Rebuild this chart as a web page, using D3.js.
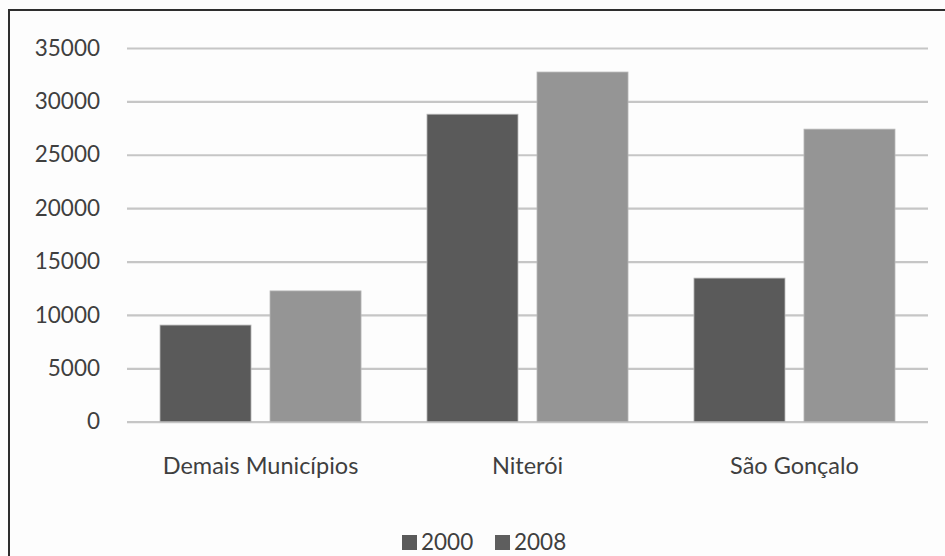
<!DOCTYPE html>
<html>
<head>
<meta charset="utf-8">
<script src="https://cdn.jsdelivr.net/npm/d3@7/dist/d3.min.js"></script>
<style>
  html, body { margin: 0; padding: 0; background: #fdfdfd; }
  svg { display: block; }
  text { font-family: Lato, "Open Sans", sans-serif; fill: #3f3f3f; }
</style>
</head>
<body>
<svg id="chart" width="945" height="556"></svg>
<script>
// Categories, series and values
const categories = ["Demais Municípios", "Niterói", "São Gonçalo"];
const seriesNames = ["2000", "2008"];
const values2000 = [9050, 28800, 13450];
const values2008 = [12250, 32750, 27400];
const yTicks = [0, 5000, 10000, 15000, 20000, 25000, 30000, 35000];
const seriesColors = ["#5a5a5a", "#959595"];

const seriesValues = [values2000, values2008];
const rows = categories.map((c, i) => ({
  category: c,
  values: seriesNames.map((s, k) => ({ series: s, value: seriesValues[k][i], k }))
}));

const svg = d3.select("#chart");
const W = 945, H = 556;
const plot = { left: 127, right: 928, top: 48, bottom: 421.7 };

// frame around the chart area
svg.append("rect")
  .attr("x", 9).attr("y", 10)
  .attr("width", W + 20).attr("height", H + 20)
  .attr("fill", "#fdfdfd")
  .attr("stroke", "#2e2e2e").attr("stroke-width", 2);

const x0 = d3.scaleBand()
  .domain(categories)
  .range([plot.left, plot.right])
  .paddingInner(0.247)
  .paddingOuter(0.1236);

const x1 = d3.scaleBand()
  .domain(seriesNames)
  .range([0, x0.bandwidth()])
  .paddingInner(0.1727)
  .paddingOuter(0);

const y = d3.scaleLinear()
  .domain([0, 35000])
  .range([plot.bottom, plot.top]);

// y axis with gridlines
const yAxis = svg.append("g")
  .attr("transform", `translate(${plot.left},0)`)
  .call(d3.axisLeft(y).tickValues(yTicks).tickSize(-(plot.right - plot.left)).tickPadding(27).tickFormat(d3.format("d")));
yAxis.select(".domain").remove();
yAxis.selectAll(".tick line").attr("stroke", "#c6c6c6").attr("stroke-width", 2.2);
yAxis.selectAll(".tick text").attr("font-size", 22.5).attr("fill", "#3f3f3f");

// bars
const groups = svg.append("g").selectAll("g")
  .data(rows)
  .join("g")
  .attr("transform", d => `translate(${x0(d.category)},0)`);

groups.selectAll("rect")
  .data(d => d.values)
  .join("rect")
  .attr("x", d => x1(d.series))
  .attr("y", d => y(d.value))
  .attr("width", x1.bandwidth())
  .attr("height", d => y(0) - y(d.value))
  .attr("fill", d => seriesColors[d.k])
  .attr("stroke", "#b8b8b8")
  .attr("stroke-width", 0.8);

// category labels
svg.append("g").selectAll("text")
  .data(categories)
  .join("text")
  .attr("x", d => x0(d) + x0.bandwidth() / 2)
  .attr("y", 474)
  .attr("text-anchor", "middle")
  .attr("font-size", 23.5)
  .text(d => d);

// legend
const legendItems = [
  { name: seriesNames[0], x: 402 },
  { name: seriesNames[1], x: 495 }
];
const lg = svg.append("g");
legendItems.forEach((it, i) => {
  lg.append("rect")
    .attr("x", it.x).attr("y", 535)
    .attr("width", 15).attr("height", 15)
    .attr("fill", i === 0 ? seriesColors[0] : "#5e5e5e");
  lg.append("text")
    .attr("x", it.x + 19).attr("y", 550)
    .attr("font-size", 22.5)
    .text(it.name);
});
</script>
</body>
</html>
